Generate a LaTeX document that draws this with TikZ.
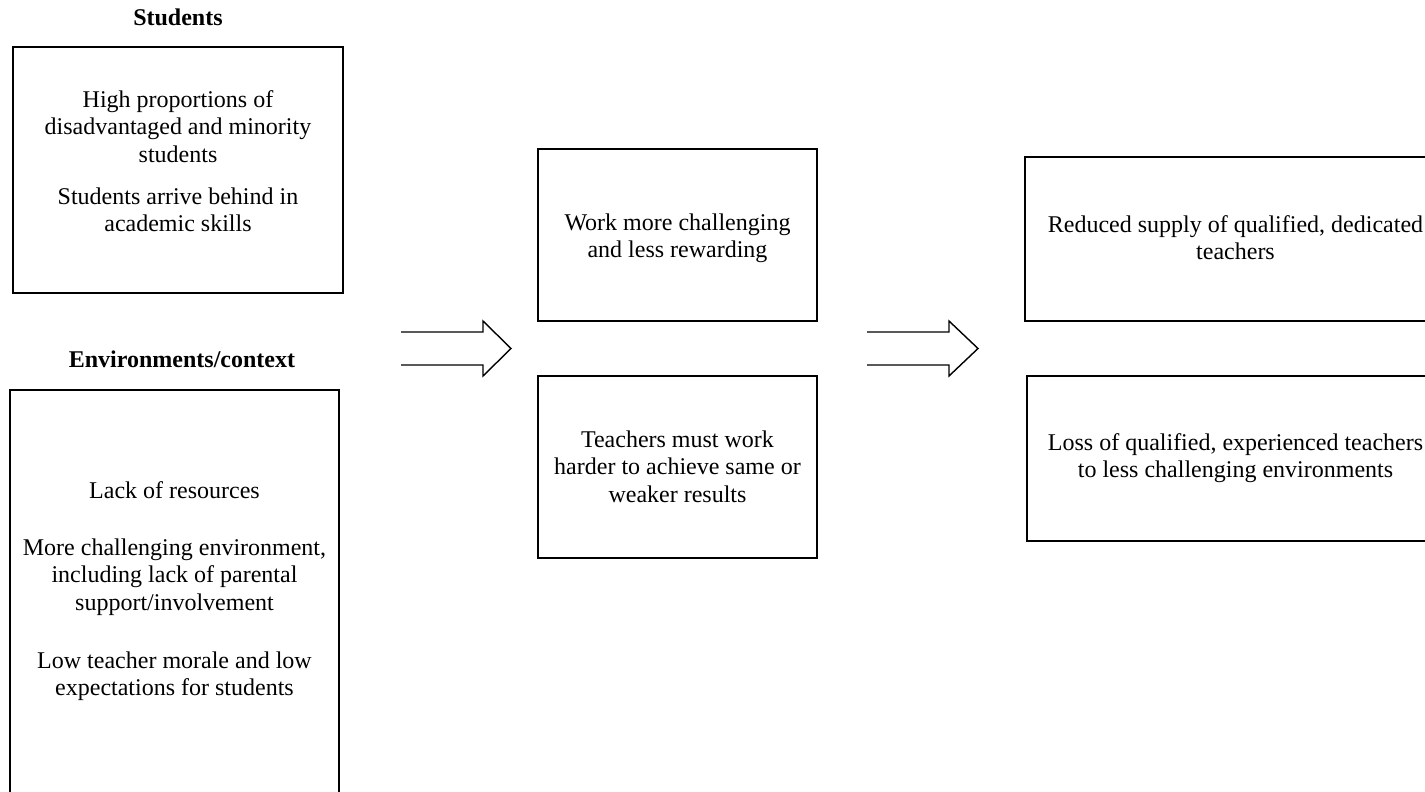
\documentclass[tikz,border=0pt]{standalone}
\usepackage{fontspec}
\setmainfont{Liberation Serif}
\begin{document}
\begin{tikzpicture}[x=1pt,y=-1pt,
  box/.style={draw, line width=1.2pt, inner sep=0pt, minimum width=#1},
  txt/.style={align=center, inner sep=0pt, anchor=north, font=\fontsize{24}{27.8}\selectfont},
  ttl/.style={inner sep=0pt, anchor=base, font=\fontsize{24}{27.8}\selectfont\bfseries},
  blockarrow/.style={draw, line width=1.4pt, line join=miter}]
\useasboundingbox (0,0) rectangle (1425,792);

% titles
\node[ttl] (tstud) at (178,26) {Students};
\node[ttl] (tenv) at (182,367) {Environments/context};

% boxes
\node[box=330pt, minimum height=246pt] (bstud) at (178,170) {};
\node[box=329pt, minimum height=420pt] (benv) at (174.5,600) {};
\node[box=279pt, minimum height=172pt] (bm1) at (677.5,235) {};
\node[box=279pt, minimum height=182pt] (bm2) at (677.5,467) {};
\node[box=421pt, minimum height=164pt] (br1) at (1235.5,239) {};
\node[box=417pt, minimum height=165pt] (br2) at (1235.5,458.5) {};

% texts
\node[txt] (s1) at (178,87.5) {\strut High proportions of\\disadvantaged and minority\\students};
\node[txt] (s2) at (178,184.5) {\strut Students arrive behind in\\academic skills};
\node[txt] (e1) at (174.5,478.5) {\strut Lack of resources};
\node[txt] (e2) at (174.5,535.5) {\strut More challenging environment,\\including lack of parental\\support/involvement};
\node[txt] (e3) at (174.5,648.5) {\strut Low teacher morale and low\\expectations for students};
\node[txt] (m1) at (677.5,210.5) {\strut Work more challenging\\and less rewarding};
\node[txt] (m2) at (677.5,427.5) {\strut Teachers must work\\harder to achieve same or\\weaker results};
\node[txt] (r1) at (1235.5,212.5) {\strut Reduced supply of qualified, dedicated\\teachers};
\node[txt] (r2) at (1235.5,430.5) {\strut Loss of qualified, experienced teachers\\to less challenging environments};

% block arrows
\coordinate (a1) at (401,332);
\coordinate (a1h) at (483,332);
\coordinate (a1t) at (511,348.5);
\draw[blockarrow] (a1) -- (a1h) -- (483,321) -- (a1t) -- (483,376) -- (483,365) -- (401,365);
\coordinate (a2) at (867,332);
\coordinate (a2h) at (949,332);
\coordinate (a2t) at (978,348.5);
\draw[blockarrow] (a2) -- (a2h) -- (949,321) -- (a2t) -- (949,376) -- (949,365) -- (867,365);
\end{tikzpicture}
\end{document}
